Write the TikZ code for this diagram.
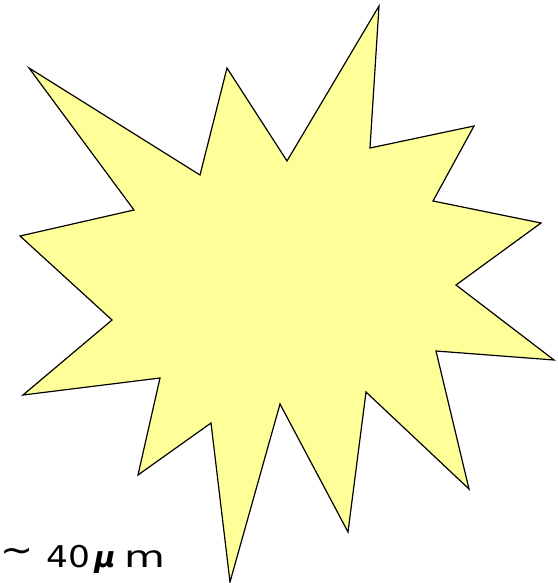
\documentclass[tikz,border=0pt]{standalone}
\usepackage{fontspec}
\setmainfont{DejaVu Sans}
\usetikzlibrary{positioning}
\definecolor{burstfill}{HTML}{FFFF99}

\begin{document}
\begin{tikzpicture}[x=1pt,y=-1pt,
    sizetext/.style={inner sep=0pt,font=\fontsize{30}{34}\selectfont}]
      \useasboundingbox (0,0) rectangle (557,583);
      \draw[black,line width=1.2pt,fill=burstfill,line join=miter]
        (29,68) -- (200,175) -- (227,68) -- (287,161) -- (379,6) -- (370,148)
        -- (474,126) -- (433,201) -- (541,223) -- (456,285) -- (554,360)
        -- (436,351) -- (469,489) -- (366,392) -- (348,532) -- (280,404)
        -- (230,582) -- (211,423) -- (138,475) -- (160,378) -- (23,395)
        -- (112,320) -- (20,236) -- (134,210) -- cycle;
      \node[sizetext,font=\fontsize{36}{40}\selectfont,xscale=1.1] (tilde) at (16.8,555) {∼};
      \node[sizetext,anchor=base west,xscale=1.15] (num) at (46,567) {40};
      \node[sizetext,anchor=base,font=\fontsize{29}{34}\selectfont\bfseries\itshape] (mu) at (105,567) {μ};
      \node[sizetext,anchor=base west,xscale=1.4] (unit) at (124,567) {m};
    \end{tikzpicture}
\end{document}
